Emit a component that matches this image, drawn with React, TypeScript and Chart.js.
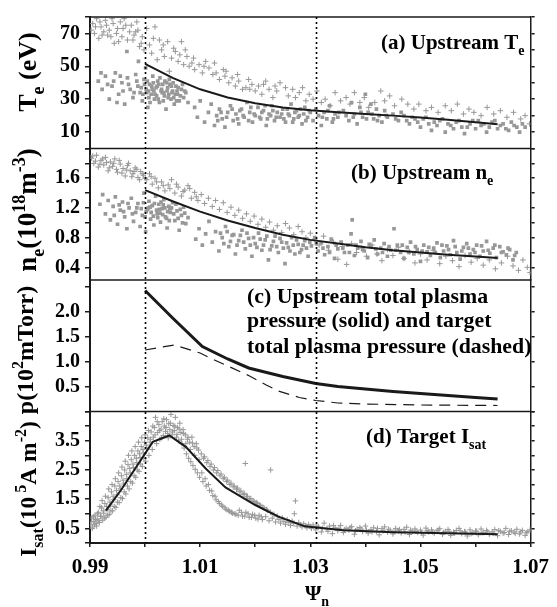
import React, { useEffect, useRef } from 'react';
import { Chart, registerables } from 'chart.js';

Chart.register(...registerables);

// ---------------- axes ----------------
const X_MIN = 0.99;
const X_MAX = 1.07;
const X_TICKS = [0.99, 1.0, 1.01, 1.02, 1.03, 1.04, 1.05, 1.06, 1.07];
const X_LABELS = [0.99, 1.01, 1.03, 1.05, 1.07];
const SEPARATRIX_LINES = [1.0, 1.031];

const TE_RANGE = [0, 80];
const TE_TICKS = [0, 10, 20, 30, 40, 50, 60, 70, 80];
const TE_LABELS = [10, 30, 50, 70];

const NE_RANGE = [0.23, 2.0];
const NE_TICKS = [0.4, 0.6, 0.8, 1.0, 1.2, 1.4, 1.6, 1.8, 2.0];
const NE_LABELS = [0.4, 0.8, 1.2, 1.6];

const P_RANGE = [0, 2.63];
const P_TICKS = [0, 0.5, 1.0, 1.5, 2.0, 2.5];
const P_LABELS = [0.5, 1.0, 1.5, 2.0];

const IS_RANGE = [0, 4.5];
const IS_TICKS = [0, 0.5, 1.0, 1.5, 2.0, 2.5, 3.0, 3.5, 4.0, 4.5];
const IS_LABELS = [0.5, 1.5, 2.5, 3.5];

// ---------------- (a) upstream Te ----------------
const TE_FIT = [[1.0, 51.5], [1.005, 43], [1.01, 36], [1.015, 31], [1.02, 27.5], [1.025, 25], [1.03, 23.3], [1.035, 22], [1.04, 21], [1.045, 20], [1.05, 18.8], [1.055, 17.5], [1.06, 16], [1.064, 14.8]];

const TE_SQUARES = [
  [0.9915, 41], [0.992, 46], [0.9922, 36], [0.9928, 44], [0.9932, 39], [0.9935, 30], [0.994, 38], [0.9943, 41], [0.9946, 46], [0.9949, 28], [0.9952, 33], [0.9955, 44], [0.9958, 40], [0.996, 35], [0.9963, 27], [0.9967, 59], [0.9968, 43], [0.997, 39], [0.9973, 36], [0.9978, 31], [0.998, 34], [0.9983, 45], [0.9985, 41], [0.9987, 38], [0.9988, 53], [0.9991, 34], [0.9993, 37], [0.9995, 29], [0.9996, 33], [0.9998, 42], [0.9999, 39],
  [1.0001, 49], [1.0002, 36], [1.0003, 34], [1.0004, 41], [1.0005, 25], [1.0006, 35], [1.0007, 31], [1.0008, 39], [1.0009, 28], [1.0011, 33], [1.0012, 38], [1.0013, 36], [1.0014, 44], [1.0015, 40], [1.0016, 35], [1.0017, 30], [1.0018, 33], [1.002, 37], [1.0021, 32], [1.0022, 38], [1.0023, 41], [1.0024, 30], [1.0025, 39], [1.0026, 28], [1.0027, 43], [1.0029, 35], [1.003, 36], [1.0031, 34], [1.0032, 39], [1.0033, 29], [1.0034, 34], [1.0035, 32], [1.0036, 41], [1.0038, 24], [1.0039, 40], [1.004, 35], [1.0041, 37], [1.0042, 31], [1.0043, 33], [1.0044, 42], [1.0045, 39], [1.0047, 30], [1.0048, 38], [1.0049, 34], [1.005, 35], [1.0051, 40], [1.0052, 31], [1.0053, 27], [1.0055, 33], [1.0056, 38], [1.0057, 29], [1.0058, 35], [1.0059, 33], [1.006, 37], [1.0062, 29], [1.0064, 32], [1.0066, 36], [1.0068, 39], [1.007, 31], [1.0072, 35], [1.0074, 34], [1.0078, 28],
  [1.009, 25], [1.0095, 19], [1.01, 29], [1.0108, 16], [1.0115, 22], [1.012, 27], [1.0126, 14], [1.013, 20], [1.0132, 17], [1.0135, 24], [1.0138, 22], [1.014, 18], [1.0145, 13], [1.0148, 19], [1.015, 22], [1.0155, 26], [1.0158, 24], [1.016, 17], [1.0165, 21], [1.0168, 18], [1.017, 15], [1.0172, 23], [1.0175, 24], [1.0178, 20], [1.018, 19], [1.0185, 28], [1.0188, 17], [1.019, 22], [1.0192, 25], [1.0195, 16], [1.0198, 21], [1.02, 20], [1.0205, 25], [1.0208, 19], [1.021, 18], [1.0212, 22], [1.0215, 23], [1.0218, 26], [1.022, 14], [1.0222, 18], [1.0225, 21], [1.0228, 20], [1.023, 26], [1.0232, 23], [1.0235, 17], [1.0238, 19], [1.024, 22], [1.0245, 19], [1.0248, 21], [1.025, 24], [1.0252, 18], [1.0255, 16], [1.0258, 24], [1.026, 21], [1.0262, 20], [1.0265, 27], [1.0268, 16], [1.027, 18], [1.0272, 22], [1.0275, 23], [1.0278, 19], [1.028, 20], [1.0282, 24], [1.0285, 15], [1.0288, 21], [1.029, 25], [1.0292, 17], [1.0295, 19], [1.0298, 23], [1.03, 22],
  [1.0305, 17], [1.031, 24], [1.0315, 20], [1.032, 14], [1.0322, 19], [1.0325, 22], [1.033, 18], [1.0332, 23], [1.0335, 26], [1.034, 16], [1.0342, 18], [1.0345, 21], [1.035, 19], [1.0352, 22], [1.036, 23], [1.0365, 20], [1.037, 17], [1.0375, 28], [1.0378, 19], [1.038, 21], [1.0385, 15], [1.039, 25], [1.0392, 22], [1.0395, 19], [1.04, 33], [1.0402, 18], [1.0405, 22], [1.041, 27], [1.0412, 21], [1.0415, 18], [1.042, 24], [1.0422, 17], [1.0425, 20], [1.043, 16], [1.0435, 23], [1.0438, 20], [1.044, 19], [1.045, 21], [1.0455, 18], [1.046, 17], [1.0465, 22], [1.047, 20], [1.0475, 17], [1.048, 15], [1.0485, 19], [1.049, 18], [1.0495, 16], [1.05, 13], [1.0505, 18], [1.051, 19], [1.0515, 15], [1.052, 11], [1.0525, 16], [1.053, 14], [1.0535, 17], [1.054, 18], [1.0545, 10], [1.055, 15], [1.0555, 14], [1.056, 12], [1.0565, 16], [1.057, 17], [1.0575, 13], [1.058, 9], [1.0585, 13], [1.059, 15], [1.0595, 17], [1.06, 12], [1.0605, 17], [1.061, 14], [1.0615, 15], [1.062, 10], [1.0625, 13], [1.063, 16], [1.0635, 17], [1.064, 12], [1.0645, 14], [1.065, 15], [1.0655, 12], [1.066, 11], [1.0665, 16], [1.067, 14], [1.0675, 13], [1.068, 10], [1.0685, 15], [1.069, 13],
];

const TE_CROSSES = [
  [0.9902, 72], [0.9905, 76], [0.9908, 70], [0.991, 74], [0.9912, 79], [0.9916, 67], [0.9918, 77], [0.992, 74], [0.9922, 69], [0.9925, 71], [0.9928, 78], [0.993, 75], [0.9932, 69], [0.9935, 72], [0.9938, 68], [0.994, 79], [0.9942, 76], [0.9944, 64], [0.9948, 70], [0.995, 73], [0.9952, 65], [0.9955, 77], [0.9958, 68], [0.996, 73], [0.9962, 79], [0.9965, 75], [0.9968, 66], [0.9972, 71], [0.9975, 75], [0.9978, 66], [0.998, 69], [0.9983, 71], [0.9985, 77], [0.9987, 72], [0.999, 62], [0.9993, 64], [0.9995, 68], [0.9998, 60],
  [1.0003, 73], [1.0008, 63], [1.0012, 58], [1.0015, 67], [1.0018, 74], [1.0022, 54], [1.0026, 66], [1.003, 60], [1.0033, 63], [1.0035, 56], [1.0041, 65], [1.0044, 47], [1.0048, 55], [1.0052, 61], [1.0055, 59], [1.006, 53], [1.0063, 57], [1.0066, 65], [1.007, 51], [1.0073, 60], [1.0076, 56], [1.008, 50], [1.0085, 52], [1.0088, 55], [1.009, 48], [1.0098, 51], [1.0104, 46], [1.0107, 50], [1.011, 53], [1.0116, 49], [1.0123, 45], [1.0126, 52], [1.0129, 46], [1.0135, 42], [1.0142, 48], [1.0145, 44], [1.0147, 47], [1.0152, 40], [1.0158, 43], [1.0164, 38], [1.0168, 45], [1.017, 41], [1.0177, 36], [1.0183, 37], [1.0188, 42], [1.019, 36], [1.0194, 39], [1.02, 35], [1.0206, 38], [1.0212, 33], [1.0215, 39], [1.0219, 41], [1.0225, 36], [1.0232, 31], [1.0236, 38], [1.0239, 35],
  [1.0245, 40], [1.0255, 37], [1.026, 32], [1.0268, 36], [1.0273, 31], [1.028, 34], [1.0286, 37], [1.0292, 29], [1.0298, 33], [1.0305, 30], [1.0312, 35], [1.032, 28], [1.0327, 30], [1.0336, 26], [1.0345, 34], [1.0355, 29], [1.0365, 31], [1.0372, 27], [1.038, 34], [1.039, 28], [1.0398, 31], [1.0406, 25], [1.0417, 28], [1.0428, 35], [1.0435, 29], [1.0444, 32], [1.0453, 26], [1.0466, 30], [1.0477, 27], [1.0488, 24], [1.0497, 27], [1.051, 23], [1.052, 25], [1.0532, 22], [1.0545, 26], [1.0556, 23], [1.0567, 27], [1.0578, 21], [1.0588, 24], [1.0597, 22], [1.061, 20], [1.0621, 25], [1.0633, 21], [1.0645, 23], [1.0657, 19], [1.0669, 22], [1.0682, 18], [1.069, 20], [1.0698, 15],
];

// ---------------- (b) upstream ne ----------------
const NE_FIT = [[1.0, 1.44], [1.005, 1.29], [1.01, 1.15], [1.015, 1.03], [1.02, 0.93], [1.025, 0.84], [1.03, 0.77], [1.035, 0.72], [1.04, 0.67], [1.045, 0.63], [1.05, 0.6], [1.055, 0.57], [1.06, 0.545], [1.064, 0.525]];

const NE_SQUARES = [
  [0.9918, 1.25], [0.9923, 1.38], [0.9928, 1.12], [0.9933, 1.3], [0.9937, 1.04], [0.9942, 1.22], [0.9944, 1.1], [0.9946, 1.35], [0.995, 0.98], [0.9953, 1.24], [0.9955, 1.17], [0.9959, 1.28], [0.9961, 1.15], [0.9963, 1.08], [0.9967, 0.92], [0.9969, 1.26], [0.9971, 1.2], [0.9975, 1.33], [0.9977, 1.12], [0.9979, 1.02], [0.9983, 1.14], [0.9985, 1.2], [0.9987, 1.26], [0.9991, 0.95], [0.9993, 1.19], [0.9995, 1.1], [0.9997, 1.27], [0.9998, 1.4],
  [1.0, 1.08], [1.0001, 0.88], [1.0002, 1.15], [1.0004, 1.18], [1.0006, 1.2], [1.0007, 1.29], [1.0009, 1.21], [1.001, 1.05], [1.0011, 1.14], [1.0013, 1.23], [1.0015, 1.09], [1.0016, 0.97], [1.0017, 1.26], [1.0019, 1.36], [1.0021, 1.17], [1.0022, 1.12], [1.0023, 1.07], [1.0025, 1.25], [1.0026, 1.18], [1.0027, 1.13], [1.0028, 1.01], [1.0029, 1.28], [1.0031, 1.19], [1.0032, 1.11], [1.0033, 1.24], [1.0034, 1.31], [1.0036, 1.2], [1.0037, 1.08], [1.0039, 1.06], [1.004, 0.93], [1.0041, 1.15], [1.0043, 1.22], [1.0044, 1.03], [1.0045, 1.19], [1.0046, 1.14], [1.0048, 1.2], [1.005, 1.27], [1.0052, 1.12], [1.0054, 1.03], [1.0056, 1.25], [1.0058, 1.16], [1.006, 1.06], [1.0062, 0.9], [1.0064, 1.18], [1.0066, 1.1], [1.0068, 1.0], [1.007, 1.21], [1.0072, 1.13], [1.0074, 0.99], [1.0078, 1.07],
  [1.0092, 0.78], [1.0098, 0.92], [1.0104, 0.7], [1.011, 0.85], [1.0116, 1.02], [1.0122, 0.74], [1.0128, 0.88], [1.0134, 0.62], [1.0137, 0.86], [1.014, 0.8], [1.0143, 0.72], [1.0146, 0.95], [1.0149, 0.88], [1.0152, 0.68], [1.0155, 0.75], [1.0158, 0.83], [1.0161, 0.84], [1.0164, 0.58], [1.0167, 0.7], [1.017, 0.76], [1.0173, 0.83], [1.0176, 0.9], [1.0179, 0.74], [1.0182, 0.65], [1.0185, 0.86], [1.0188, 0.79], [1.0191, 0.7], [1.0194, 0.55], [1.0197, 0.8], [1.02, 0.72], [1.0203, 0.67], [1.0206, 0.86], [1.0209, 0.78], [1.0212, 0.63], [1.0215, 0.7], [1.0218, 0.77], [1.0221, 0.82], [1.0224, 0.5], [1.0227, 0.64], [1.023, 0.69], [1.0233, 0.75], [1.0236, 0.82], [1.0239, 0.68], [1.0242, 0.6], [1.0245, 0.79], [1.0248, 0.74], [1.0251, 0.66], [1.0254, 0.45], [1.0257, 0.73], [1.026, 0.67], [1.0263, 0.62], [1.0266, 0.8], [1.0269, 0.7], [1.0272, 0.58], [1.0275, 0.77], [1.0278, 0.71], [1.0281, 0.6], [1.0284, 0.64], [1.0287, 0.7], [1.029, 0.76], [1.0293, 0.66], [1.0296, 0.55], [1.0299, 0.74], [1.0302, 0.69],
  [1.0308, 0.8], [1.0311, 0.72], [1.0314, 0.62], [1.032, 0.73], [1.0323, 0.66], [1.0326, 0.57], [1.0332, 0.68], [1.0335, 0.6], [1.0338, 0.78], [1.0344, 0.52], [1.0347, 0.7], [1.035, 0.65], [1.0356, 0.74], [1.0359, 0.66], [1.0362, 0.6], [1.0368, 0.7], [1.0371, 0.6], [1.0374, 0.85], [1.0376, 1.04], [1.038, 0.56], [1.0383, 0.7], [1.0386, 0.66], [1.0392, 0.75], [1.0395, 0.64], [1.0398, 0.62], [1.0404, 0.53], [1.0407, 0.71], [1.041, 0.69], [1.0416, 0.77], [1.0419, 0.65], [1.0422, 0.58], [1.0428, 0.66], [1.0431, 0.6], [1.0434, 0.72], [1.044, 0.55], [1.0443, 0.68], [1.0446, 0.63], [1.0452, 0.92], [1.0455, 0.63], [1.0458, 0.7], [1.0464, 0.6], [1.0467, 0.7], [1.047, 0.52], [1.0476, 0.67], [1.0479, 0.6], [1.0482, 0.74], [1.0488, 0.58], [1.0491, 0.68], [1.0494, 0.64], [1.05, 0.48], [1.0503, 0.62], [1.0506, 0.7], [1.0512, 0.61], [1.0515, 0.67], [1.0518, 0.56], [1.0524, 0.66], [1.0527, 0.6], [1.053, 0.73], [1.0536, 0.53], [1.0539, 0.7], [1.0542, 0.62], [1.0548, 0.69], [1.0551, 0.64], [1.0554, 0.57], [1.056, 0.76], [1.0563, 0.68], [1.0566, 0.6], [1.0572, 0.51], [1.0575, 0.62], [1.0578, 0.67], [1.0584, 0.72], [1.0587, 0.66], [1.059, 0.58], [1.0596, 0.64], [1.0599, 0.6], [1.0602, 0.7], [1.0608, 0.55], [1.0611, 0.69], [1.0614, 0.62], [1.062, 0.75], [1.0623, 0.63], [1.0626, 0.59], [1.0632, 0.66], [1.0635, 0.7], [1.0638, 0.53], [1.0644, 0.68], [1.0647, 0.6], [1.065, 0.61], [1.0656, 0.57], [1.0659, 0.66], [1.0662, 0.64], [1.0668, 0.5], [1.0671, 0.56], [1.0674, 0.6],
];

const NE_CROSSES = [
  [0.9903, 1.87], [0.9905, 1.9], [0.9907, 1.8], [0.991, 1.83], [0.9912, 1.91], [0.9915, 1.75], [0.9918, 1.79], [0.992, 1.84], [0.9923, 1.86], [0.9925, 1.78], [0.9928, 1.88], [0.993, 1.81], [0.9933, 1.7], [0.9935, 1.74], [0.9937, 1.82], [0.9941, 1.76], [0.9943, 1.8], [0.9945, 1.86], [0.9948, 1.72], [0.995, 1.68], [0.9953, 1.84], [0.9955, 1.79], [0.9958, 1.67], [0.996, 1.73], [0.9964, 1.63], [0.9966, 1.71], [0.9968, 1.77], [0.997, 1.8], [0.9973, 1.7], [0.9976, 1.62], [0.9978, 1.66], [0.998, 1.69], [0.9982, 1.74], [0.9985, 1.72], [0.9987, 1.61], [0.999, 1.58], [0.9992, 1.69], [0.9995, 1.66], [0.9997, 1.64],
  [1.0, 1.6], [1.0003, 1.58], [1.0008, 1.66], [1.0011, 1.62], [1.0013, 1.52], [1.0018, 1.6], [1.0021, 1.55], [1.0024, 1.47], [1.003, 1.55], [1.0033, 1.5], [1.0036, 1.43], [1.0042, 1.51], [1.0045, 1.46], [1.0048, 1.58], [1.0054, 1.4], [1.0057, 1.52], [1.006, 1.48], [1.0066, 1.36], [1.0069, 1.42], [1.0072, 1.44], [1.0078, 1.5], [1.0081, 1.46], [1.0084, 1.33], [1.009, 1.41], [1.0093, 1.35], [1.0096, 1.3],
  [1.0102, 1.38], [1.0108, 1.26], [1.0115, 1.33], [1.0122, 1.22], [1.0128, 1.3], [1.0135, 1.18], [1.0142, 1.27], [1.0149, 1.14], [1.0156, 1.21], [1.0163, 1.1], [1.017, 1.17], [1.0177, 1.06], [1.0184, 1.12], [1.0191, 1.02], [1.0198, 1.09], [1.0205, 0.98], [1.0212, 1.05], [1.0219, 0.94], [1.0226, 1.01], [1.0233, 0.9], [1.024, 0.96], [1.0248, 0.87], [1.0255, 0.99], [1.0262, 0.93], [1.027, 0.84], [1.0278, 0.95], [1.0285, 0.88], [1.0292, 0.8], [1.03, 0.86],
  [1.0308, 0.78], [1.0316, 0.7], [1.0324, 0.82], [1.0333, 0.63], [1.0342, 0.74], [1.035, 0.51], [1.0358, 0.68], [1.0366, 0.44], [1.0375, 0.72], [1.0384, 0.6], [1.0393, 0.66], [1.0402, 0.55], [1.0412, 0.7], [1.0421, 0.58], [1.043, 0.49], [1.044, 0.64], [1.045, 0.56], [1.046, 0.67], [1.047, 0.52], [1.048, 0.61], [1.049, 0.46], [1.05, 0.58], [1.0512, 0.5], [1.0523, 0.63], [1.0535, 0.45], [1.0546, 0.55], [1.0558, 0.49], [1.057, 0.41], [1.0581, 0.56], [1.0592, 0.47], [1.0603, 0.52], [1.0614, 0.43], [1.0625, 0.5], [1.0636, 0.38], [1.0647, 0.46], [1.0658, 0.55], [1.0668, 0.42], [1.0678, 0.36], [1.0686, 0.5], [1.0694, 0.4], [1.0699, 0.33],
];

// ---------------- (c) pressures ----------------
const P_UPSTREAM = [[1.0, 2.42], [1.005, 1.87], [1.0104, 1.3], [1.015, 1.05], [1.0188, 0.87], [1.025, 0.7], [1.031, 0.56], [1.035, 0.5], [1.04, 0.45], [1.045, 0.4], [1.05, 0.36], [1.055, 0.32], [1.06, 0.28], [1.064, 0.25]];
const P_TARGET = [[1.0, 1.23], [1.0053, 1.33], [1.01, 1.17], [1.0122, 1.05], [1.0188, 0.72], [1.022, 0.53], [1.0242, 0.41], [1.028, 0.28], [1.031, 0.22], [1.035, 0.17], [1.04, 0.15], [1.05, 0.13], [1.064, 0.12]];

// ---------------- (d) target Isat ----------------
const IS_FIT = [[0.9929, 1.11], [0.9957, 1.83], [1.0014, 3.46], [1.0044, 3.68], [1.0074, 3.29], [1.011, 2.55], [1.0146, 1.9], [1.02, 1.3], [1.0242, 0.9], [1.029, 0.57], [1.036, 0.44], [1.045, 0.37], [1.055, 0.33], [1.064, 0.3]];

const IS_CROSSES = [
  [0.9901, 0.62], [0.9902, 0.72], [0.9903, 0.85], [0.9904, 0.5], [0.9905, 0.55], [0.9906, 0.9], [0.9907, 0.74], [0.9908, 0.64], [0.9909, 0.95], [0.991, 0.8], [0.9911, 0.66], [0.9912, 0.58], [0.9913, 0.82], [0.9914, 1.0], [0.9915, 1.05], [0.9916, 0.76], [0.9917, 0.7], [0.9918, 1.25], [0.9919, 0.91], [0.992, 0.92], [0.9921, 1.2], [0.9922, 1.45], [0.9923, 0.78], [0.9924, 1.1], [0.9925, 1.02], [0.9926, 0.85], [0.9927, 1.35], [0.9928, 1.6], [0.9929, 0.88], [0.993, 1.25], [0.9931, 1.15], [0.9932, 0.95], [0.9933, 1.55], [0.9934, 1.85], [0.9935, 0.98], [0.9936, 1.4], [0.9937, 1.3], [0.9938, 1.1], [0.9939, 1.75], [0.994, 2.0], [0.9941, 1.1], [0.9942, 1.6], [0.9943, 1.48], [0.9944, 1.25], [0.9945, 1.95], [0.9946, 2.2], [0.9947, 1.22], [0.9948, 1.8], [0.9949, 1.65], [0.995, 1.4], [0.9951, 2.1], [0.9952, 2.4], [0.9953, 1.38], [0.9954, 1.95], [0.9955, 1.85], [0.9956, 1.55], [0.9957, 2.3], [0.9958, 2.6], [0.9959, 1.52], [0.996, 2.15], [0.9961, 2.02], [0.9962, 1.75], [0.9963, 2.5], [0.9964, 2.8], [0.9965, 1.68], [0.9966, 2.35], [0.9967, 2.2], [0.9968, 1.95], [0.9969, 2.68], [0.997, 3.0], [0.9971, 1.85], [0.9972, 2.55], [0.9973, 2.4], [0.9974, 2.1], [0.9975, 2.85], [0.9976, 3.15], [0.9977, 2.05], [0.9978, 2.7], [0.9979, 2.58], [0.998, 2.3], [0.9981, 3.0], [0.9982, 3.3], [0.9983, 2.25], [0.9984, 2.9], [0.9985, 2.75], [0.9986, 2.5], [0.9987, 3.15], [0.9988, 3.45], [0.9989, 2.45], [0.999, 3.05], [0.9991, 2.92], [0.9992, 2.7], [0.9993, 3.3], [0.9994, 3.6], [0.9995, 2.62], [0.9996, 3.2], [0.9997, 3.08], [0.9998, 2.9], [0.9999, 3.45],
  [1.0, 3.7], [1.0001, 2.8], [1.0002, 3.35], [1.0003, 3.25], [1.0005, 3.6], [1.0006, 3.85], [1.0007, 3.0], [1.0009, 3.45], [1.001, 3.55], [1.0011, 3.8], [1.0013, 3.2], [1.0014, 4.0], [1.0015, 3.62], [1.0017, 3.95], [1.0018, 3.7], [1.0019, 4.3], [1.0021, 3.4], [1.0022, 4.15], [1.0023, 3.78], [1.0025, 4.05], [1.0026, 3.85], [1.0027, 3.55], [1.0029, 3.9], [1.003, 3.6], [1.0031, 4.15], [1.0033, 3.68], [1.0034, 4.25], [1.0035, 4.0], [1.0037, 3.82], [1.0038, 3.95], [1.0039, 4.22], [1.0041, 3.75], [1.0042, 3.6], [1.0043, 4.08],
  [1.0045, 3.88], [1.0046, 4.1], [1.0047, 4.4], [1.0049, 3.7], [1.005, 3.8], [1.0051, 4.02], [1.0053, 3.85], [1.0054, 4.0], [1.0055, 4.3], [1.0057, 3.62], [1.0058, 3.72], [1.0059, 3.95], [1.0061, 3.5], [1.0062, 3.9], [1.0063, 4.1], [1.0065, 3.78], [1.0066, 3.55], [1.0067, 3.4], [1.0069, 3.88], [1.007, 3.75], [1.0071, 3.25], [1.0073, 3.7], [1.0074, 3.4], [1.0075, 3.05], [1.0077, 3.55], [1.0078, 3.62], [1.0079, 2.9], [1.0081, 3.45], [1.0082, 3.2], [1.0083, 2.78], [1.0085, 3.62], [1.0086, 3.42], [1.0087, 2.65], [1.0089, 3.3], [1.009, 3.0], [1.0091, 2.52], [1.0093, 3.4], [1.0094, 3.25], [1.0095, 2.4], [1.0097, 3.18], [1.0098, 2.85], [1.0099, 2.25],
  [1.0102, 3.05], [1.0103, 2.4], [1.0105, 2.1], [1.0106, 2.9], [1.0108, 2.95], [1.0109, 2.2], [1.0111, 1.95], [1.0112, 2.75], [1.0114, 2.82], [1.0115, 2.0], [1.0117, 1.8], [1.0118, 2.62], [1.012, 2.7], [1.0121, 1.78], [1.0123, 1.62], [1.0124, 2.5], [1.0126, 2.58], [1.0127, 1.6], [1.0129, 1.48], [1.013, 2.4], [1.0132, 2.48], [1.0133, 1.42], [1.0135, 1.35], [1.0136, 2.3], [1.0138, 2.36], [1.0139, 1.3], [1.0141, 1.25], [1.0142, 2.2], [1.0144, 2.25], [1.0145, 1.2], [1.0147, 1.15], [1.0148, 2.1], [1.015, 2.15], [1.0151, 1.12], [1.0153, 1.08], [1.0154, 2.0], [1.0156, 2.05], [1.0157, 1.05], [1.0159, 1.02], [1.016, 1.92], [1.0162, 1.95], [1.0163, 1.0], [1.0165, 0.98], [1.0166, 1.84], [1.0168, 1.88], [1.0169, 0.95], [1.0171, 1.12], [1.0172, 1.75], [1.0174, 1.78], [1.0175, 1.05], [1.0177, 0.92], [1.0178, 1.66], [1.018, 1.7], [1.0181, 0.92], [1.0182, 2.72], [1.0183, 1.05], [1.0184, 1.58], [1.0186, 1.6], [1.0187, 1.0], [1.0189, 0.88], [1.019, 1.5], [1.0192, 1.52], [1.0193, 0.88], [1.0195, 0.98], [1.0196, 1.44], [1.0198, 1.42], [1.0199, 0.95],
  [1.0201, 0.85], [1.0202, 1.38], [1.0204, 1.35], [1.0205, 0.82], [1.0207, 0.95], [1.0208, 1.3], [1.021, 1.28], [1.0211, 0.9], [1.0213, 0.8], [1.0214, 1.22], [1.0216, 1.2], [1.0219, 0.9], [1.022, 1.15], [1.0222, 1.12], [1.0225, 0.76], [1.0228, 1.05], [1.0228, 2.5], [1.0231, 0.85], [1.0234, 0.98], [1.0237, 0.72], [1.024, 0.92], [1.0243, 0.8], [1.0246, 0.68], [1.0249, 0.86], [1.0252, 0.74], [1.0255, 0.64], [1.0258, 0.8], [1.0261, 0.7], [1.0264, 0.6], [1.0267, 0.75], [1.027, 0.66], [1.0271, 1.0], [1.0273, 1.44], [1.0276, 0.58], [1.0279, 0.7], [1.0282, 0.62], [1.0285, 0.55], [1.0288, 0.66], [1.0291, 0.59], [1.0294, 0.52], [1.0297, 0.63], [1.03, 0.56],
  [1.0302, 0.5], [1.0305, 0.62], [1.031, 0.45], [1.0312, 0.58], [1.0315, 0.55], [1.032, 0.38], [1.0322, 0.5], [1.0325, 0.68], [1.033, 0.48], [1.0332, 0.4], [1.0335, 0.58], [1.034, 0.32], [1.0342, 0.6], [1.0345, 0.52], [1.035, 0.42], [1.0352, 0.5], [1.0355, 0.6], [1.036, 0.36], [1.0362, 0.45], [1.0365, 0.5], [1.037, 0.44], [1.0372, 0.52], [1.0375, 0.56], [1.038, 0.3], [1.0382, 0.42], [1.0385, 0.47], [1.039, 0.53], [1.0392, 0.48], [1.0395, 0.39], [1.04, 0.58], [1.0402, 0.44], [1.0405, 0.34], [1.041, 0.46], [1.0412, 0.38], [1.0415, 0.52], [1.042, 0.4], [1.0422, 0.5], [1.0425, 0.28], [1.043, 0.49], [1.0432, 0.42], [1.0435, 0.55], [1.044, 0.37], [1.0442, 0.47], [1.0445, 0.44], [1.045, 0.31], [1.0452, 0.4], [1.0455, 0.5], [1.046, 0.42], [1.0462, 0.46], [1.0465, 0.35], [1.047, 0.47], [1.0472, 0.38], [1.0475, 0.54], [1.048, 0.29], [1.0482, 0.44], [1.0485, 0.41], [1.049, 0.48], [1.0492, 0.4], [1.0495, 0.36], [1.05, 0.44],
  [1.0502, 0.36], [1.0505, 0.27], [1.051, 0.51], [1.0512, 0.42], [1.0515, 0.38], [1.052, 0.45], [1.0522, 0.38], [1.0525, 0.33], [1.053, 0.42], [1.0532, 0.44], [1.0535, 0.49], [1.054, 0.3], [1.0542, 0.36], [1.0545, 0.4], [1.055, 0.46], [1.0552, 0.4], [1.0555, 0.26], [1.056, 0.37], [1.0562, 0.34], [1.0565, 0.43], [1.057, 0.5], [1.0572, 0.42], [1.0575, 0.32], [1.058, 0.39], [1.0582, 0.37], [1.0585, 0.24], [1.059, 0.45], [1.0592, 0.32], [1.0595, 0.35], [1.06, 0.41], [1.0602, 0.4], [1.0605, 0.28], [1.061, 0.48], [1.0612, 0.35], [1.0615, 0.36], [1.062, 0.43], [1.0622, 0.38], [1.0625, 0.3], [1.063, 0.38], [1.0632, 0.33], [1.0635, 0.46], [1.064, 0.25], [1.0642, 0.42], [1.0645, 0.4], [1.065, 0.34], [1.0652, 0.36], [1.0655, 0.5], [1.066, 0.29], [1.0662, 0.4], [1.0665, 0.42], [1.067, 0.37], [1.0672, 0.33], [1.0675, 0.47], [1.068, 0.31], [1.0682, 0.38], [1.0685, 0.43], [1.069, 0.26], [1.0692, 0.35], [1.0695, 0.39], [1.0699, 0.45],
];

// ---------------- styling ----------------
const SERIF = "'Liberation Serif', 'Times New Roman', serif";
const INK = '#1a1a1a';
const GRAY = 'rgb(152,152,152)';

type Seg = { t: string; k?: 'sub' | 'sup' };

const segFont = (s: Seg, size: number) => `bold ${s.k ? Math.round(size * 0.68) : size}px ${SERIF}`;

function drawRich(ctx: CanvasRenderingContext2D, segs: Seg[], x: number, y: number, size: number, align: string) {
  let w = 0;
  for (const s of segs) {
    ctx.font = segFont(s, size);
    w += ctx.measureText(s.t).width;
  }
  let cx = align === 'left' ? x : align === 'right' ? x - w : x - w / 2;
  ctx.textAlign = 'left';
  ctx.textBaseline = 'alphabetic';
  for (const s of segs) {
    ctx.font = segFont(s, size);
    const dy = s.k === 'sub' ? size * 0.3 : s.k === 'sup' ? -size * 0.42 : 0;
    ctx.fillText(s.t, cx, y + dy);
    cx += ctx.measureText(s.t).width;
  }
}

function drawRotated(ctx: CanvasRenderingContext2D, segs: Seg[], x: number, y: number, size: number) {
  ctx.save();
  ctx.translate(x, y);
  ctx.rotate(-Math.PI / 2);
  drawRich(ctx, segs, 0, 0, size, 'center');
  ctx.restore();
}

const near = (list: number[], v: number) => list.some((l) => Math.abs(l - v) < 1e-9);

function yScale(range: number[], ticks: number[], labels: number[], digits: number, side: string, weight: number) {
  const left = side === 'left';
  return {
    type: 'linear',
    position: side,
    stack: side,
    stackWeight: 1,
    weight,
    min: range[0],
    max: range[1],
    afterBuildTicks: (s: any) => {
      s.ticks = ticks.map((v) => ({ value: v }));
    },
    afterFit: (s: any) => {
      s.width = left ? 90 : 6;
    },
    border: { display: true, color: INK, width: left ? 2 : 1.5 },
    grid: { drawOnChartArea: false, drawTicks: true, tickLength: left ? 5 : 4, color: INK, lineWidth: 1.5 },
    ticks: {
      display: left,
      autoSkip: false,
      padding: 5,
      color: '#000',
      font: { family: SERIF, weight: 'bold', size: 20 },
      callback: (v: number) => (near(labels, v) ? Number(v).toFixed(digits) : ''),
    },
  };
}

const toXY = (arr: number[][]) => arr.map(([x, y]) => ({ x, y }));

const lineSet = (arr: number[][], axis: string, width: number, dash?: number[]) => ({
  data: toXY(arr),
  yAxisID: axis,
  showLine: true,
  borderColor: INK,
  backgroundColor: INK,
  borderWidth: width,
  borderDash: dash || [],
  pointRadius: 0,
  tension: 0,
  fill: false,
  order: 0,
});

const squareSet = (arr: number[][], axis: string) => ({
  data: toXY(arr),
  yAxisID: axis,
  showLine: false,
  pointStyle: 'rect',
  pointRadius: 2.6,
  pointBorderWidth: 0,
  borderWidth: 0,
  backgroundColor: GRAY,
  borderColor: GRAY,
  order: 1,
});

const crossSet = (arr: number[][], axis: string) => ({
  data: toXY(arr),
  yAxisID: axis,
  showLine: false,
  pointStyle: 'cross',
  pointRadius: 2.8,
  borderWidth: 1,
  backgroundColor: GRAY,
  borderColor: GRAY,
  order: 2,
});

const decor = {
  id: 'decor',
  afterDatasetsDraw(chart: any) {
    const { ctx, chartArea, scales } = chart;
    ctx.save();
    ctx.strokeStyle = INK;
    ctx.lineWidth = 1.5;
    ctx.setLineDash([]);
    for (const id of ['yA', 'yB', 'yC', 'yD']) {
      const s = scales[id];
      ctx.beginPath();
      ctx.moveTo(chartArea.left, s.top);
      ctx.lineTo(chartArea.right, s.top);
      ctx.stroke();
    }
    ctx.strokeStyle = '#000';
    ctx.lineWidth = 1.6;
    ctx.setLineDash([2, 3]);
    for (const v of SEPARATRIX_LINES) {
      const px = Math.round(scales.x.getPixelForValue(v)) + 0.5;
      ctx.beginPath();
      ctx.moveTo(px, chartArea.top);
      ctx.lineTo(px, chartArea.bottom);
      ctx.stroke();
    }
    ctx.setLineDash([]);
    ctx.fillStyle = '#000';
    drawRich(ctx, [{ t: '(a) Upstream T' }, { t: 'e', k: 'sub' }], 381, scales.yA.top + 32, 21, 'left');
    drawRich(ctx, [{ t: '(b) Upstream n' }, { t: 'e', k: 'sub' }], 351, scales.yB.top + 30, 21, 'left');
    drawRich(ctx, [{ t: '(c) Upstream total plasma' }], 247, scales.yC.top + 23, 21.8, 'left');
    drawRich(ctx, [{ t: 'pressure (solid) and target' }], 247, scales.yC.top + 47, 21.8, 'left');
    drawRich(ctx, [{ t: 'total plasma pressure (dashed)' }], 247, scales.yC.top + 73, 21.8, 'left');
    drawRich(ctx, [{ t: '(d) Target I' }, { t: 'sat', k: 'sub' }], 366, scales.yD.top + 31, 21, 'left');
    drawRotated(ctx, [{ t: 'T' }, { t: 'e', k: 'sub' }, { t: ' (eV)' }], 36, 72, 26);
    drawRotated(ctx, [{ t: 'n' }, { t: 'e', k: 'sub' }, { t: '(10' }, { t: '18', k: 'sup' }, { t: 'm' }, { t: '-3', k: 'sup' }, { t: ')' }], 36, 210, 27);
    drawRotated(ctx, [{ t: 'p(10' }, { t: '2', k: 'sup' }, { t: 'mTorr)' }], 33, 350, 24);
    drawRotated(ctx, [{ t: 'I' }, { t: 'sat', k: 'sub' }, { t: '(10' }, { t: ' 5', k: 'sup' }, { t: 'A m' }, { t: '-2', k: 'sup' }, { t: ')' }], 36, 489, 23.5);
    drawRich(ctx, [{ t: 'Ψ' }, { t: 'n', k: 'sub' }], 317, 600, 21, 'center');
    ctx.restore();
  },
};

export default function App() {
  const ref = useRef<HTMLCanvasElement | null>(null);

  useEffect(() => {
    if (!ref.current) return;
    const chart = new Chart(ref.current, {
      type: 'scatter',
      data: {
        datasets: [
          lineSet(TE_FIT, 'yA', 2),
          lineSet(NE_FIT, 'yB', 2),
          lineSet(P_UPSTREAM, 'yC', 3),
          lineSet(P_TARGET, 'yC', 1.2, [11, 7]),
          lineSet(IS_FIT, 'yD', 2),
          squareSet(TE_SQUARES, 'yA'),
          crossSet(TE_CROSSES, 'yA'),
          squareSet(NE_SQUARES, 'yB'),
          crossSet(NE_CROSSES, 'yB'),
          crossSet(IS_CROSSES, 'yD'),
        ] as any,
      },
      options: {
        animation: false,
        responsive: false,
        events: [],
        layout: { padding: { left: 0, right: 17, top: 8, bottom: 24 } },
        plugins: { legend: { display: false }, tooltip: { enabled: false } },
        scales: {
          x: {
            type: 'linear',
            position: 'bottom',
            min: X_MIN,
            max: X_MAX,
            afterBuildTicks: (s: any) => {
              s.ticks = X_TICKS.map((v) => ({ value: v }));
            },
            afterFit: (s: any) => {
              s.height = 40;
            },
            border: { display: true, color: INK, width: 2 },
            grid: { drawOnChartArea: false, drawTicks: true, tickLength: 4, color: INK, lineWidth: 1.5 },
            ticks: {
              autoSkip: false,
              maxRotation: 0,
              padding: 8,
              color: '#000',
              font: { family: SERIF, weight: 'bold', size: 21 },
              callback: (v: number) => (near(X_LABELS, v) ? Number(v).toFixed(2) : ''),
            },
          },
          yA: yScale(TE_RANGE, TE_TICKS, TE_LABELS, 0, 'left', 4),
          yB: yScale(NE_RANGE, NE_TICKS, NE_LABELS, 1, 'left', 3),
          yC: yScale(P_RANGE, P_TICKS, P_LABELS, 1, 'left', 2),
          yD: yScale(IS_RANGE, IS_TICKS, IS_LABELS, 1, 'left', 1),
          rA: yScale(TE_RANGE, TE_TICKS, TE_LABELS, 0, 'right', 1),
          rB: yScale(NE_RANGE, NE_TICKS, NE_LABELS, 1, 'right', 2),
          rC: yScale(P_RANGE, P_TICKS, P_LABELS, 1, 'right', 3),
          rD: yScale(IS_RANGE, IS_TICKS, IS_LABELS, 1, 'right', 4),
        } as any,
      },
      plugins: [decor],
    } as any);
    return () => chart.destroy();
  }, []);

  return (
    <div style={{ position: 'absolute', left: 0, top: 0, width: 557, height: 607, background: '#fff' }}>
      <canvas ref={ref} width={557} height={607} style={{ display: 'block', width: 557, height: 607 }} />
    </div>
  );
}
